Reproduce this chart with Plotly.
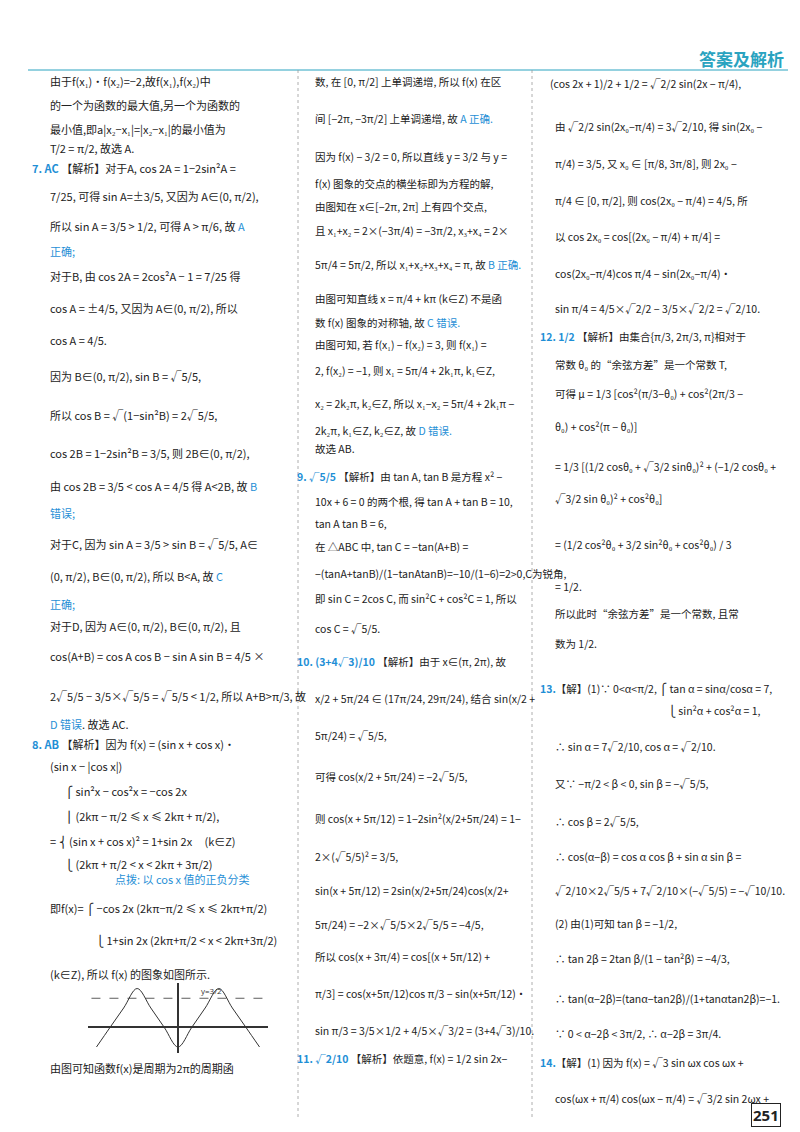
import plotly.graph_objects as go

B = "#1f8fd6"
K = "#222222"
def b(t): return '<span style="color:' + B + '">' + t + '</span>'

left_lines = [
(40,73,"由于f(x₁)·f(x₂)=−2,故f(x₁),f(x₂)中"),
(40,97,"的一个为函数的最大值,另一个为函数的"),
(40,121,"最小值,即a|x₂−x₁|=|x₂−x₁|的最小值为"),
(40,140,"T/2 = π/2, 故选 A."),
(22,160,b("<b>7. AC</b>")+" 【解析】对于A, cos 2A = 1−2sin²A ="),
(40,188,"7/25, 可得 sin A=±3/5, 又因为 A∈(0, π/2),"),
(40,218,"所以 sin A = 3/5 > 1/2, 可得 A > π/6, 故 "+b("A")),
(40,243,b("正确;")),
(40,268,"对于B, 由 cos 2A = 2cos²A − 1 = 7/25 得"),
(40,300,"cos A = ±4/5, 又因为 A∈(0, π/2), 所以"),
(40,332,"cos A = 4/5."),
(40,368,"因为 B∈(0, π/2), sin B = √5/5,"),
(40,407,"所以 cos B = √(1−sin²B) = 2√5/5,"),
(40,445,"cos 2B = 1−2sin²B = 3/5, 则 2B∈(0, π/2),"),
(40,478,"由 cos 2B = 3/5 < cos A = 4/5 得 A<2B, 故 "+b("B")),
(40,505,b("错误;")),
(40,536,"对于C, 因为 sin A = 3/5 > sin B = √5/5, A∈"),
(40,568,"(0, π/2), B∈(0, π/2), 所以 B<A, 故 "+b("C")),
(40,596,b("正确;")),
(40,618,"对于D, 因为 A∈(0, π/2), B∈(0, π/2), 且"),
(40,648,"cos(A+B) = cos A cos B − sin A sin B = 4/5 ×"),
(40,688,"2√5/5 − 3/5×√5/5 = √5/5 < 1/2, 所以 A+B>π/3, 故"),
(40,716,b("D 错误")+". 故选 AC."),
(22,736,b("<b>8. AB</b>")+" 【解析】因为 f(x) = (sin x + cos x)·"),
(40,758,"(sin x − |cos x|)"),
(55,783,"⎧ sin²x − cos²x = −cos 2x"),
(55,808,"⎪ (2kπ − π/2 ≤ x ≤ 2kπ + π/2),"),
(40,833,"= ⎨ (sin x + cos x)² = 1+sin 2x     (k∈Z)"),
(55,856,"⎩ (2kπ + π/2 < x < 2kπ + 3π/2)"),
(105,871,b("点拨: 以 cos x 值的正负分类")),
(40,900,"即f(x)= ⎧ −cos 2x (2kπ−π/2 ≤ x ≤ 2kπ+π/2)"),
(86,932,"⎩ 1+sin 2x (2kπ+π/2 < x < 2kπ+3π/2)"),
(40,966,"(k∈Z), 所以 f(x) 的图象如图所示."),
(40,1060,"由图可知函数f(x)是周期为2π的周期函"),
]
mid_lines = [
(305,73,"数, 在 [0, π/2] 上单调递增, 所以 f(x) 在区"),
(305,110,"间 [−2π, −3π/2] 上单调递增, 故 "+b("A 正确.")),
(305,148,"因为 f(x) − 3/2 = 0, 所以直线 y = 3/2 与 y ="),
(305,175,"f(x) 图象的交点的横坐标即为方程的解,"),
(305,198,"由图知在 x∈[−2π, 2π] 上有四个交点,"),
(305,222,"且 x₁+x₂ = 2×(−3π/4) = −3π/2, x₃+x₄ = 2×"),
(305,256,"5π/4 = 5π/2, 所以 x₁+x₂+x₃+x₄ = π, 故 "+b("B 正确.")),
(305,290,"由图可知直线 x = π/4 + kπ (k∈Z) 不是函"),
(305,314,"数 f(x) 图象的对称轴, 故 "+b("C 错误.")),
(305,336,"由图可知, 若 f(x₁) − f(x₂) = 3, 则 f(x₁) ="),
(305,362,"2, f(x₂) = −1, 则 x₁ = 5π/4 + 2k₁π, k₁∈Z,"),
(305,395,"x₂ = 2k₂π, k₂∈Z, 所以 x₁−x₂ = 5π/4 + 2k₁π −"),
(305,422,"2k₂π, k₁∈Z, k₂∈Z, 故 "+b("D 错误.")),
(305,440,"故选 AB."),
(287,468,b("<b>9. √5/5</b>")+" 【解析】由 tan A, tan B 是方程 x² −"),
(305,493,"10x + 6 = 0 的两个根, 得 tan A + tan B = 10,"),
(305,515,"tan A tan B = 6,"),
(305,538,"在 △ABC 中, tan C = −tan(A+B) ="),
(305,565,"−(tanA+tanB)/(1−tanAtanB)=−10/(1−6)=2>0,C为锐角,"),
(305,590,"即 sin C = 2cos C, 而 sin²C + cos²C = 1, 所以"),
(305,620,"cos C = √5/5."),
(287,653,b("<b>10. (3+4√3)/10</b>")+" 【解析】由于 x∈(π, 2π), 故"),
(305,690,"x/2 + 5π/24 ∈ (17π/24, 29π/24), 结合 sin(x/2 +"),
(305,727,"5π/24) = √5/5,"),
(305,768,"可得 cos(x/2 + 5π/24) = −2√5/5,"),
(305,810,"则 cos(x + 5π/12) = 1−2sin²(x/2+5π/24) = 1−"),
(305,848,"2×(√5/5)² = 3/5,"),
(305,882,"sin(x + 5π/12) = 2sin(x/2+5π/24)cos(x/2+"),
(305,916,"5π/24) = −2×√5/5×2√5/5 = −4/5,"),
(305,948,"所以 cos(x + 3π/4) = cos[(x + 5π/12) +"),
(305,985,"π/3] = cos(x+5π/12)cos π/3 − sin(x+5π/12)·"),
(305,1022,"sin π/3 = 3/5×1/2 + 4/5×√3/2 = (3+4√3)/10."),
(287,1050,b("<b>11. √2/10</b>")+" 【解析】依题意, f(x) = 1/2 sin 2x−"),
]
right_lines = [
(540,75,"(cos 2x + 1)/2 + 1/2 = √2/2 sin(2x − π/4),"),
(545,118,"由 √2/2 sin(2x₀−π/4) = 3√2/10, 得 sin(2x₀ −"),
(545,155,"π/4) = 3/5, 又 x₀ ∈ [π/8, 3π/8], 则 2x₀ −"),
(545,192,"π/4 ∈ [0, π/2], 则 cos(2x₀ − π/4) = 4/5, 所"),
(545,228,"以 cos 2x₀ = cos[(2x₀ − π/4) + π/4] ="),
(545,265,"cos(2x₀−π/4)cos π/4 − sin(2x₀−π/4)·"),
(545,300,"sin π/4 = 4/5×√2/2 − 3/5×√2/2 = √2/10."),
(530,328,b("<b>12. 1/2</b>")+" 【解析】由集合{π/3, 2π/3, π}相对于"),
(545,356,"常数 θ₀ 的“余弦方差”是一个常数 T,"),
(545,385,"可得 μ = 1/3 [cos²(π/3−θ₀) + cos²(2π/3 −"),
(545,418,"θ₀) + cos²(π − θ₀)]"),
(545,458,"= 1/3 [(1/2 cosθ₀ + √3/2 sinθ₀)² + (−1/2 cosθ₀ +"),
(545,490,"√3/2 sin θ₀)² + cos²θ₀]"),
(545,536,"= (1/2 cos²θ₀ + 3/2 sin²θ₀ + cos²θ₀) / 3"),
(545,578,"= 1/2."),
(545,605,"所以此时“余弦方差”是一个常数, 且常"),
(545,635,"数为 1/2."),
(530,680,b("<b>13.</b>")+"【解】(1)∵ 0<α<π/2, ⎧ tan α = sinα/cosα = 7,"),
(658,702,"⎩ sin²α + cos²α = 1,"),
(545,738,"∴ sin α = 7√2/10, cos α = √2/10."),
(545,775,"又∵ −π/2 < β < 0, sin β = −√5/5,"),
(545,813,"∴ cos β = 2√5/5,"),
(545,848,"∴ cos(α−β) = cos α cos β + sin α sin β ="),
(545,882,"√2/10×2√5/5 + 7√2/10×(−√5/5) = −√10/10."),
(545,915,"(2) 由(1)可知 tan β = −1/2,"),
(545,950,"∴ tan 2β = 2tan β/(1 − tan²β) = −4/3,"),
(545,990,"∴ tan(α−2β)=(tanα−tan2β)/(1+tanαtan2β)=−1."),
(545,1025,"∵ 0 < α−2β < 3π/2, ∴ α−2β = 3π/4."),
(530,1054,b("<b>14.</b>")+"【解】(1) 因为 f(x) = √3 sin ωx cos ωx +"),
(545,1090,"cos(ωx + π/4) cos(ωx − π/4) = √3/2 sin 2ωx +"),
]

# small function graph values
gx = [-4.71,-3.93,-3.14,-2.36,-1.57,-0.79,0.0,0.79,1.57,2.36,3.14,3.93,4.71]
gy = [-1.0,0.0,1.0,2.0,1.0,0.0,-1.0,0.0,1.0,2.0,1.0,0.0,-1.0]

fig = go.Figure()
fig.add_trace(go.Scatter(x=gx, y=gy, mode="lines", line=dict(color="#333", width=1, shape="spline"),
                         xaxis="x2", yaxis="y2", showlegend=False))
fig.add_trace(go.Scatter(x=[-5,5], y=[1.5,1.5], mode="lines", line=dict(color="#333", width=0.8, dash="dash"),
                         xaxis="x2", yaxis="y2", showlegend=False))
for (x,y,t) in left_lines:
    fig.add_annotation(x=x, y=y, xref="x", yref="y", text=t, showarrow=False, xanchor="left", yanchor="middle",
                       font=dict(size=11, color=K, family="Noto Sans CJK SC"))
for (x,y,t) in mid_lines+right_lines:
    fig.add_annotation(x=x, y=y, xref="x", yref="y", text=t, showarrow=False, xanchor="left", yanchor="middle",
                       font=dict(size=10.5, color=K, family="Noto Sans CJK SC"))
fig.add_annotation(x=778, y=50, xref="x", yref="y", text="<b>答案及解析</b>", showarrow=False, xanchor="right",
                   font=dict(size=17, color="#2aa3c0", family="Noto Sans CJK SC"))
fig.add_annotation(x=773, y=1107, xref="x", yref="y", text="<b>251</b>", showarrow=False, xanchor="right",
                   font=dict(size=15, color="#222"), bordercolor="#222", borderwidth=1, borderpad=1)
fig.add_annotation(x=1.2, y=1.5, xref="x2", yref="y2", text="y=3/2", showarrow=False,
                   xanchor="left", yanchor="bottom", font=dict(size=8, color="#333"))
shapes = [
 dict(type="line", xref="x", yref="y", x0=20, x1=780, y0=62, y1=62, line=dict(color="#2aa3c0", width=1)),
 dict(type="line", xref="x", yref="y", x0=290, x1=290, y0=62, y1=1110, line=dict(color="#999", width=0.8, dash="dot")),
 dict(type="line", xref="x", yref="y", x0=524, x1=524, y0=62, y1=1110, line=dict(color="#999", width=0.8, dash="dot")),
]
fig.update_layout(width=800, height=1132, margin=dict(l=0,r=0,t=0,b=0), plot_bgcolor="white",
    paper_bgcolor="white", shapes=shapes,
    xaxis=dict(range=[0,800], visible=False, domain=[0,1]),
    yaxis=dict(range=[1132,0], visible=False, domain=[0,1]),
    xaxis2=dict(range=[-5.2,5.2], domain=[0.10,0.325], anchor="y2", showgrid=False, zeroline=True,
                zerolinecolor="#333", showticklabels=False, ticks=""),
    yaxis2=dict(range=[-1.3,2.3], domain=[0.077,0.139], anchor="x2", showgrid=False, zeroline=True,
                zerolinecolor="#333", showticklabels=False, ticks=""))
fig.write_html("out.html")
